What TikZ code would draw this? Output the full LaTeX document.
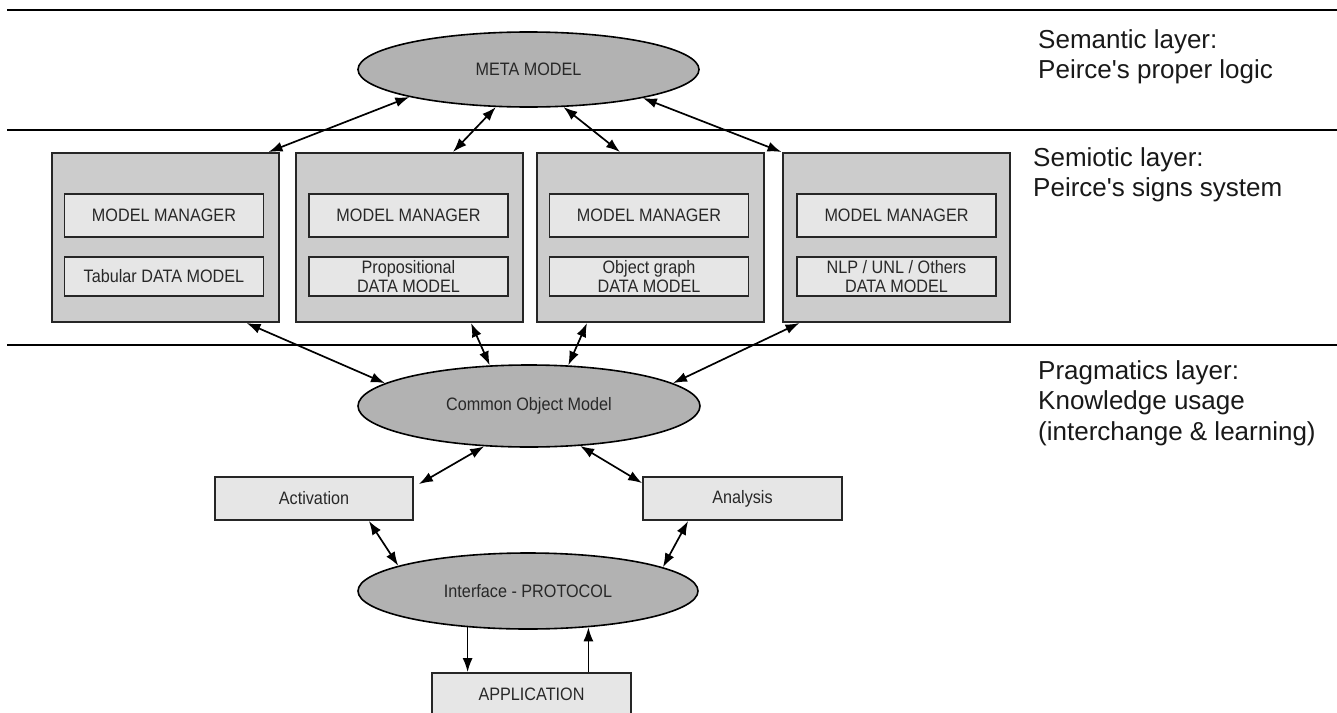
\documentclass[tikz,border=0pt]{standalone}
\usepackage{fontspec}
\setmainfont{Liberation Sans}[Ligatures=TeXOff]
\newfontfamily\boxfont{Liberation Sans}[Ligatures=TeXOff,FakeStretch=0.9]
\usetikzlibrary{shapes.geometric,arrows.meta,calc}
\definecolor{ellgray}{RGB}{178,178,178}
\definecolor{outgray}{RGB}{204,204,204}
\definecolor{ingray}{RGB}{230,230,230}
\definecolor{txtgray}{RGB}{40,40,40}
\begin{document}
\begin{tikzpicture}[x=1pt,y=-1pt,
  >={Latex[length=14pt,width=10pt]},
  ell/.style={ellipse,draw=black,line width=1.6pt,fill=ellgray,inner sep=0pt,text=txtgray,font=\boxfont\fontsize{18}{18.5}\selectfont},
  outerbox/.style={rectangle,draw=black!85,line width=2pt,fill=outgray,inner sep=0pt,minimum width=227pt,minimum height=169pt},
  innerbox/.style={rectangle,draw=black!85,line width=1.8pt,fill=ingray,inner sep=0pt,align=center,text=txtgray,font=\boxfont\fontsize{18}{18.5}\selectfont},
  mm/.style={innerbox,minimum width=199pt,minimum height=43pt},
  dm/.style={innerbox,minimum width=199pt,minimum height=39pt},
  conn/.style={<->,line width=1.7pt},
  single/.style={->,line width=1.7pt},
  layerline/.style={line width=2.2pt},
  layertext/.style={anchor=north west,inner sep=0pt,align=left,font=\fontsize{26}{30.5}\selectfont,text=black!90}
]
\clip (0,0) rectangle (1337,712);
\fill[white] (0,0) rectangle (1337,712);

% layer separators
\draw[layerline] (7,10) -- (1337,10);
\draw[layerline] (7,130) -- (1337,130);
\draw[layerline] (7,345) -- (1337,345);

% layer labels
\node[layertext] (sem) at (1038,29) {Semantic layer:\\Peirce's proper logic};
\node[layertext] (semio) at (1033,147) {Semiotic layer:\\Peirce's signs system};
\node[layertext] (prag) at (1038,360) {Pragmatics layer:\\Knowledge usage\\(interchange \& learning)};

% ellipses
\node[ell,minimum width=341pt,minimum height=75pt] (meta) at (528.5,69.5) {META MODEL};
\node[ell,minimum width=342pt,minimum height=82pt] (com) at (529,406) {Common Object Model};
\node[ell,minimum width=340pt,minimum height=76pt] (iface) at (528,591) {Interface - PROTOCOL};

% semiotic boxes
\node[outerbox] (box1) at (165,237.5) {};
\node[outerbox] (box2) at (409,237.5) {};
\node[outerbox] (box3) at (650,237.5) {};
\node[outerbox] (box4) at (896,237.5) {};

\node[mm] (mm1) at (164,215.5) {MODEL MANAGER};
\node[mm] (mm2) at (408.5,215.5) {MODEL MANAGER};
\node[mm] (mm3) at (649,215.5) {MODEL MANAGER};
\node[mm] (mm4) at (896.5,215.5) {MODEL MANAGER};

\node[dm] (dm1) at (164,276.5) {Tabular DATA MODEL};
\node[dm] (dm2) at (408.5,276.5) {Propositional\\DATA MODEL};
\node[dm] (dm3) at (649,276.5) {Object graph\\DATA MODEL};
\node[dm] (dm4) at (896.5,276.5) {NLP / UNL / Others\\DATA MODEL};

% pragmatics boxes
\node[innerbox,minimum width=198pt,minimum height=43pt] (act) at (314,498.5) {Activation};
\node[innerbox,minimum width=199pt,minimum height=43pt] (ana) at (742.5,498.5) {Analysis};
\node[innerbox,minimum width=199pt,minimum height=42pt] (app) at (531.5,694) {APPLICATION};

% connectors
\draw[conn] (meta.193) -- ([xshift=-11pt]box1.north east);
\draw[conn] (meta.229) -- ([xshift=44pt]box2.north);
\draw[conn] (meta.313) -- ([xshift=-30pt]box3.north);
\draw[conn] (meta.346) -- (box4.north west);

\draw[conn] ([xshift=-33pt]box1.south east) -- (com.171);
\draw[conn] ([xshift=62pt]box2.south) -- (com.134);
\draw[conn] ([xshift=-63pt]box3.south) -- (com.46);
\draw[conn] ([xshift=18pt]box4.south west) -- (com.9);

\draw[conn] (com.222) -- ([xshift=5pt,yshift=-8pt]act.north east);
\draw[conn] (com.322) -- ([yshift=-7pt]ana.north west);

\draw[conn] ([xshift=-45pt]act.south east) -- (iface.169);
\draw[conn] ([xshift=46pt]ana.south west) -- (iface.10);

\draw[single] (iface.211) -- (iface.211 |- app.north);
\draw[single] (iface.329 |- app.north) -- (iface.329);
\end{tikzpicture}
\end{document}
